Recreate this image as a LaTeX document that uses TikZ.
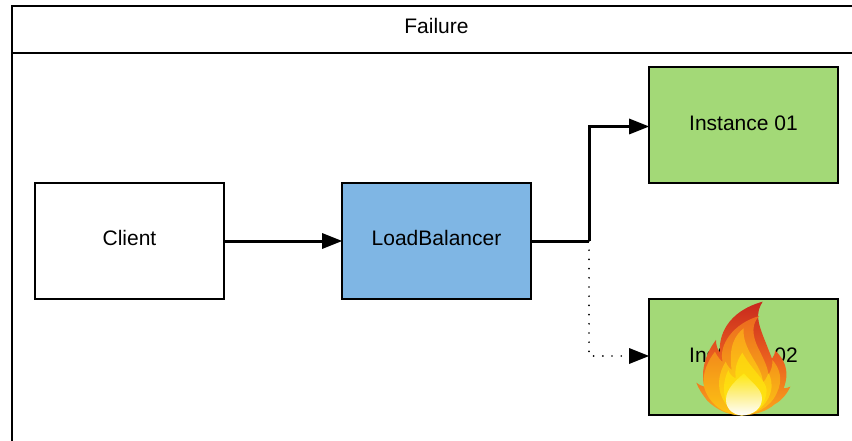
\documentclass[tikz,border=0pt]{standalone}
\usepackage{fontspec}
\setmainfont{Liberation Sans}
\usetikzlibrary{arrows.meta}
\definecolor{instgreen}{HTML}{A3D977}
\definecolor{lbblue}{HTML}{7FB6E4}
\definecolor{flA}{HTML}{C8281E}
\definecolor{flB}{HTML}{EA5F1F}
\definecolor{flC}{HTML}{FBA81A}
\definecolor{flD}{HTML}{EC6A1F}
\definecolor{flE}{HTML}{F9A01B}
\definecolor{flF}{HTML}{FDC513}
\definecolor{flG}{HTML}{FEE00C}
\definecolor{flH}{HTML}{FDD10F}
\definecolor{flI}{HTML}{FEE810}
\definecolor{flJ}{HTML}{FDF08A}
\tikzset{
  x=1pt,y=-1pt,
  boxnode/.style={draw=black,line width=2.4pt,minimum width=188.5pt,minimum height=115.5pt,inner sep=0pt,
    text height=14pt,text depth=6pt,font=\fontsize{21}{25}\selectfont},
  instnode/.style={boxnode,fill=instgreen,text depth=3pt},
  framepart/.style={draw=black,line width=2.4pt},
  link/.style={draw=black,line width=3pt,-{Triangle[length=20pt,width=16pt,line width=0pt]},shorten >=-1pt},
  dotlink/.style={draw=black,line width=1.9pt,line cap=round,dash pattern=on 0pt off 9.2pt,-{Triangle[length=20pt,width=16pt,line width=0pt,sep=0pt]},shorten >=-1pt},
  plainlink/.style={draw=black,line width=3pt},
}
\begin{document}
\begin{tikzpicture}
\useasboundingbox (0,0) rectangle (852,441);
\fill[white] (0,0) rectangle (852,441);
% frame
\coordinate (ftr) at (852,6);
\coordinate (ftl) at (12,6);
\coordinate (fbl) at (12,441);
\coordinate (hl) at (12,53);
\coordinate (hr) at (852,53);
\draw[framepart] (ftr) -- (ftl) -- (fbl);
\draw[framepart] (hl) -- (hr);
\node[font=\fontsize{21}{25}\selectfont,text height=14pt,text depth=0pt,inner sep=0pt] (title) at (436.5,27) {Failure};
% boxes
\node[boxnode,fill=white] (client) at (129.5,241) {Client};
\node[boxnode,fill=lbblue] (lb) at (436.5,241) {LoadBalancer};
\node[instnode] (inst1) at (743.5,125) {Instance 01};
\node[instnode] (inst2) at (743.5,357) {Instance 02};
% connectors
\coordinate (branch) at (589,241);
\coordinate (in1) at (648,126.5);
\coordinate (in2) at (648,356);
\draw[link] (client) -- (lb);
\draw[plainlink] (lb) -- (branch);
\draw[link] (branch) |- (in1);
\draw[dotlink] (branch) |- (in2);
% flame, in zoomed coordinates
\begin{scope}[shift={(620,280)},x=0.3333pt,y=-0.3333pt]
\path[top color=flA,bottom color=flC,middle color=flB]
 (428,65) .. controls (405,100) and (415,130) .. (430,170)
 .. controls (440,195) and (450,220) .. (456,236)
 .. controls (462,228) and (465,220) .. (466,212)
 .. controls (490,235) and (512,270) .. (491,325)
 .. controls (498,325) and (505,323) .. (511,320)
 .. controls (500,345) and (480,365) .. (465,372)
 .. controls (440,395) and (400,406) .. (365,406)
 .. controls (320,406) and (285,385) .. (262,362)
 .. controls (248,345) and (235,325) .. (229,308)
 .. controls (235,313) and (243,318) .. (253,320)
 .. controls (240,270) and (260,215) .. (288,180)
 .. controls (288,195) and (292,208) .. (300,218)
 .. controls (295,170) and (320,95) .. (428,65) -- cycle;
\path[top color=flD,bottom color=flF]
 (418,108) .. controls (395,130) and (395,165) .. (415,205)
 .. controls (430,235) and (445,265) .. (445,285)
 .. controls (455,270) and (458,255) .. (457,240)
 .. controls (480,265) and (490,300) .. (470,340)
 .. controls (450,385) and (400,405) .. (365,406)
 .. controls (310,405) and (265,370) .. (252,320)
 .. controls (245,280) and (265,240) .. (285,215)
 .. controls (295,235) and (305,245) .. (308,245)
 .. controls (295,195) and (340,130) .. (418,108) -- cycle;
\path[top color=flE,bottom color=flG]
 (371,145) .. controls (345,165) and (325,200) .. (335,270)
 .. controls (325,262) and (320,252) .. (317,245)
 .. controls (295,280) and (285,330) .. (320,375)
 .. controls (335,395) and (350,405) .. (365,406)
 .. controls (410,405) and (450,370) .. (455,320)
 .. controls (455,300) and (450,285) .. (445,280)
 .. controls (440,295) and (432,305) .. (428,308)
 .. controls (430,260) and (365,210) .. (371,145) -- cycle;
\path[top color=flH,bottom color=flI]
 (367,218) .. controls (345,250) and (345,275) .. (347,295)
 .. controls (335,290) and (328,280) .. (325,270)
 .. controls (310,300) and (305,345) .. (325,375)
 .. controls (340,398) and (355,405) .. (365,406)
 .. controls (410,405) and (440,370) .. (440,330)
 .. controls (438,300) and (395,270) .. (367,218) -- cycle;
\path[top color=flI,bottom color=white,middle color=flJ]
 (372,280) .. controls (350,300) and (318,325) .. (318,360)
 .. controls (318,390) and (345,406) .. (365,406)
 .. controls (400,406) and (426,385) .. (426,355)
 .. controls (426,325) and (390,305) .. (372,280) -- cycle;
\end{scope}
\end{tikzpicture}
\end{document}
